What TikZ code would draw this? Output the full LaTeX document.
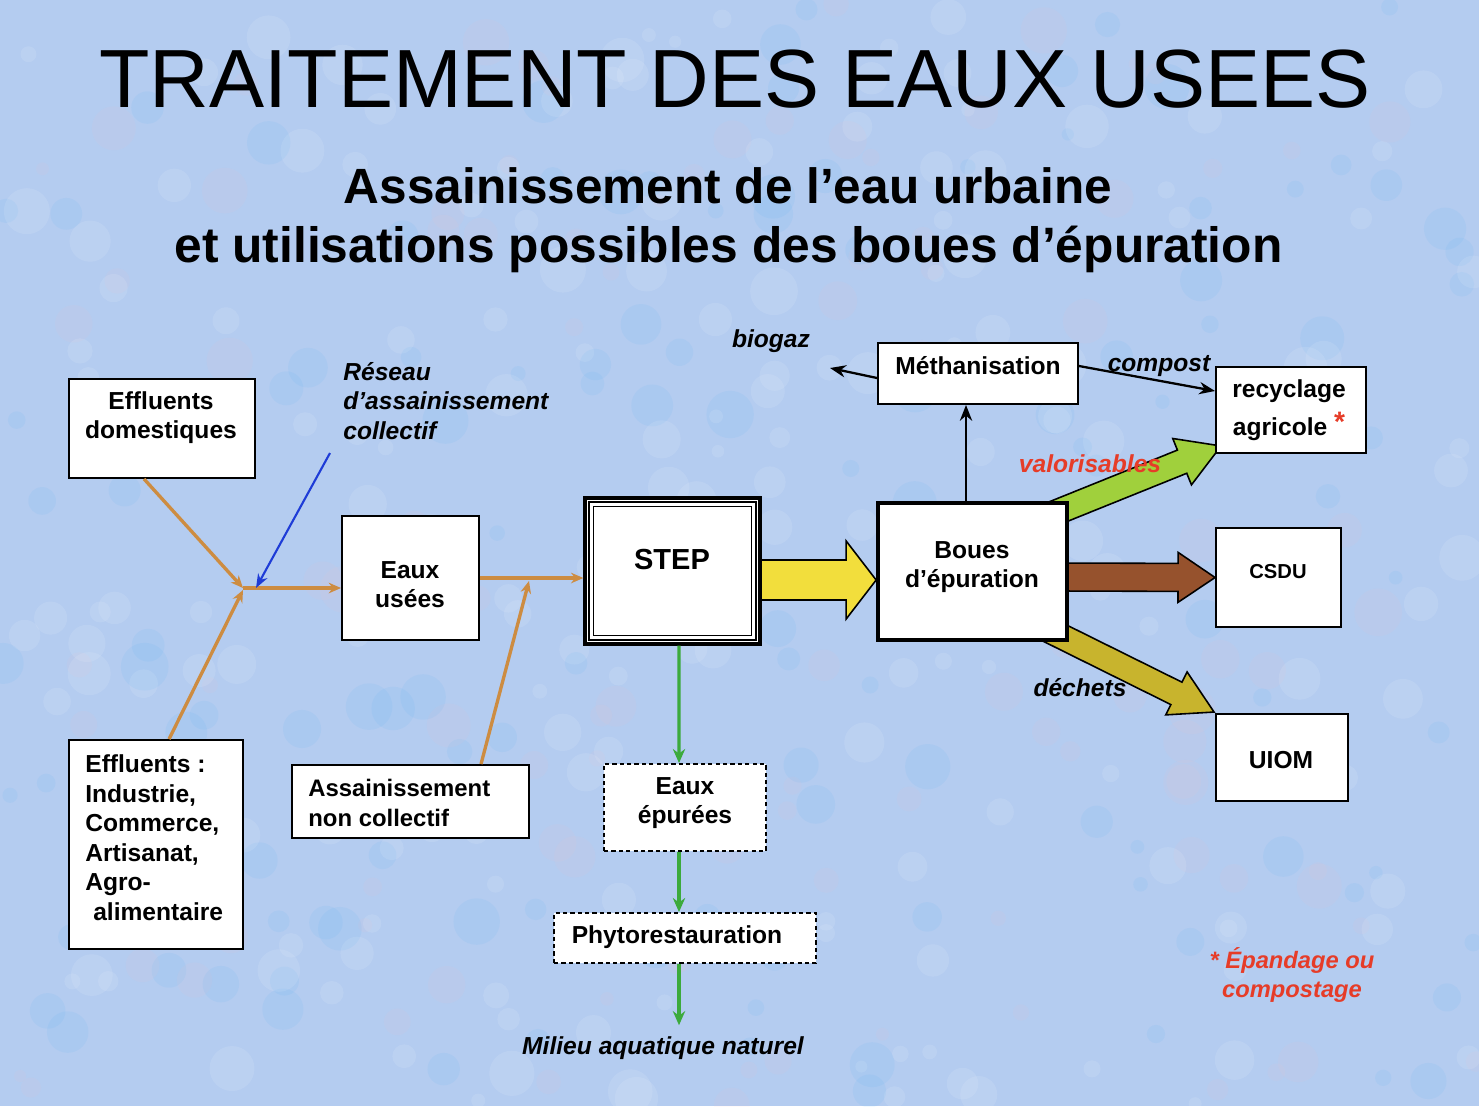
\documentclass[tikz,border=0pt]{standalone}
\usepackage{fontspec}
\setmainfont{Liberation Sans}
\usetikzlibrary{calc,arrows.meta}
\pgfdeclarelayer{paper}\pgfdeclarelayer{under}\pgfsetlayers{paper,under,main}
\definecolor{paperblue}{RGB}{180,204,240}
\definecolor{pipe}{RGB}{205,140,65}
\definecolor{eaugreen}{RGB}{60,170,60}
\definecolor{netblue}{RGB}{30,60,215}
\definecolor{labred}{RGB}{230,60,40}
\definecolor{fyellow}{RGB}{242,222,60}
\definecolor{fbrown}{RGB}{150,82,45}
\definecolor{fgreen}{RGB}{160,208,60}
\definecolor{folive}{RGB}{200,180,45}
\tikzset{
  box/.style 2 args={draw=black, fill=white, line width=1.1pt, inner sep=0pt,
    minimum width=#1*0.02cm, minimum height=#2*0.02cm},
  dbox/.style 2 args={box={#1}{#2}, dash pattern=on 2.4pt off 1.8pt},
  txt/.style={font=\bfseries\fontsize{14}{16.8}\selectfont, align=center, inner sep=0pt},
  lab/.style={font=\bfseries\itshape\fontsize{14}{17}\selectfont, inner sep=0pt},
  pipeline/.style={draw=pipe, line width=1.9pt, -{Stealth[length=7pt,width=6pt]}},
  water/.style={draw=eaugreen, line width=1.8pt, -{Stealth[length=8pt,width=7pt]}},
  netline/.style={draw=netblue, line width=1.2pt, -{Stealth[length=8pt,width=6pt]}},
  blk/.style={draw=black, line width=1.3pt, -{Stealth[length=9pt,width=7pt]}},
}
\newcommand\fatarrow[6]{% start, end, colour, half shaft, half head, head length
  \coordinate (fb) at ($(#2)!#6!(#1)$);
  \filldraw[fill=#3, draw=black, line width=0.9pt, line join=miter]
    ($(#1)!#4!90:(#2)$) -- ($(fb)!#4!90:(#2)$) -- ($(fb)!#5!90:(#2)$) -- (#2)
    -- ($(fb)!#5!-90:(#2)$) -- ($(fb)!#4!-90:(#2)$) -- ($(#1)!#4!-90:(#2)$) -- cycle;}
\begin{document}
\begin{tikzpicture}[x=0.02cm, y=-0.02cm]
\useasboundingbox (0,0) rectangle (1479,1106);
\begin{pgfonlayer}{paper}
  \fill[paperblue] (0,0) rectangle (1479,1106);
  \pgfmathsetseed{7}
  \foreach \i in {1,...,420}{
    \pgfmathsetmacro\px{rnd*1479}\pgfmathsetmacro\py{rnd*1106}
    \pgfmathsetmacro\pr{6+rnd*18}\pgfmathsetmacro\pk{rnd}
    \ifdim\pk pt<0.45pt
      \fill[white, opacity=0.10] (\px,\py) circle[radius=\pr*0.02cm];
    \else\ifdim\pk pt<0.7pt
      \fill[pink, opacity=0.08] (\px,\py) circle[radius=\pr*0.02cm];
    \else
      \fill[blue!40!cyan, opacity=0.05] (\px,\py) circle[radius=\pr*0.02cm];
    \fi\fi
  }
\end{pgfonlayer}

% titles
\node[font=\fontsize{47}{50}\selectfont, anchor=base, inner sep=0pt] (title) at (735,107) {TRAITEMENT DES EAUX USEES};
\node[font=\bfseries\fontsize{28.2}{33}\selectfont, anchor=base, inner sep=0pt] (sub1) at (728,203) {Assainissement de l’eau urbaine};
\node[font=\bfseries\fontsize{28.3}{33}\selectfont, anchor=base, inner sep=0pt] (sub2) at (728.5,262) {et utilisations possibles des boues d’épuration};

% boxes
\node[box={186}{99}] (ed) at (162,428.5) {};
\node[txt] (edt) at (161,417.5) {Effluents\\domestiques};
\node[box={137}{124}] (eu) at (410.5,578) {};
\node[txt] (eut) at (410,584.5) {Eaux\\usées};
\node[box={175}{146}, line width=1.9pt] (step) at (672.5,571) {};
\draw[line width=1.1pt] ($(step.north west)+(5.5,5.5)$) rectangle ($(step.south east)+(-5.5,-5.5)$);
\draw[line width=0.6pt] ($(step.north west)+(10,10)$) rectangle ($(step.south east)+(-10,-10)$);
\node[txt, font=\bfseries\fontsize{16.5}{19}\selectfont] (stept) at (672,560) {STEP};
\node[box={189}{137}, line width=2.1pt] (boues) at (972.5,571.5) {};
\node[txt] (bouest) at (972,567) {Boues\\d’épuration};
\node[box={200}{61}] (meth) at (978,373.5) {};
\node[txt] (metht) at (978,366) {Méthanisation};
\node[box={150}{86}] (recyc) at (1291,410) {};
\node[txt] (recyct) at (1289,410) {recyclage\\[4.5pt]agricole {\color{labred}\fontsize{16}{16}\selectfont\raisebox{2pt}{*}}};
\node[box={125}{99}] (csdu) at (1278.5,577.5) {};
\node[txt, font=\bfseries\fontsize{11.5}{14}\selectfont] (csdut) at (1278,572) {CSDU};
\node[box={132}{87}] (uiom) at (1282,757.5) {};
\node[txt] (uiomt) at (1281,760) {UIOM};
\node[box={174}{209}] (ei) at (156,844.5) {};
\node[txt, align=left, anchor=west] (eit) at (85,837.5) {Effluents :\\Industrie,\\Commerce,\\Artisanat,\\Agro-\\\hspace*{4.5pt}alimentaire};
\node[box={237}{73}] (anc) at (410.5,801.5) {};
\node[txt, align=left, anchor=west, font=\bfseries\fontsize{13.6}{17}\selectfont] (anct) at (308,803) {Assainissement\\non collectif};
\node[dbox={162}{87}] (ee) at (685,807.5) {};
\node[txt] (eet) at (685,803) {Eaux\\épurées};
\node[dbox={262}{50}] (phyto) at (685,938) {};
\node[txt] (phytot) at (677,937) {Phytorestauration};
\node[lab] (mil) at (663,1048) {Milieu aquatique naturel};

% fat arrows (under boxes)
\coordinate (ya) at ($(step.east)+(-8,9)$);
\coordinate (yb) at ($(boues.west)+(0,8.5)$);
\coordinate (ba) at ($(boues.east)+(-8,5.5)$);
\coordinate (bb) at (csdu.west);
\coordinate (ga) at ($(boues.north east)+(-69,34)$);
\coordinate (gb) at ($(recyc.south west)+(6,-8)$);
\coordinate (oa) at ($(boues.south east)+(-77,-40)$);
\coordinate (ob) at ($(uiom.north west)+(-1,-1)$);
\begin{pgfonlayer}{under}
  \fatarrow{ya}{yb}{fyellow}{0.4cm}{0.78cm}{0.6cm}
  \fatarrow{ba}{bb}{fbrown}{0.28cm}{0.5cm}{0.74cm}
  \fatarrow{ga}{gb}{fgreen}{0.25cm}{0.5cm}{0.84cm}
  \fatarrow{oa}{ob}{folive}{0.25cm}{0.48cm}{0.84cm}
\end{pgfonlayer}

% thin connectors
\coordinate (J) at (243,588);
\draw[pipeline] ($(ed.south west)+(76,0)$) -- (J);
\draw[pipeline] ($(ei.north west)+(101,0)$) -- ($(J)+(0,2)$);
\draw[pipeline] (J) -- (J -| eu.west);
\coordinate (bl) at (330,453);
\draw[netline] (bl) -- ($(J)+(13,0)$);
\draw[pipeline] (eu.east) -- (eu.east -| step.west);
\draw[pipeline] ($(anc.north west)+(190,0)$) -- ($(eu.east)+(49,3)$);
\draw[water] ($(step.south)+(6.5,0)$) -- ($(ee.north)+(-6,0)$);
\draw[water] ($(ee.south)+(-6,0)$) -- ($(phyto.north)+(-6,0)$);
\draw[water] ($(phyto.south)+(-6,0)$) -- ($(mil.north)+(16,-11)$);
\draw[blk] ($(boues.north)+(-6.5,0)$) -- ($(meth.south)+(-12,0)$);
\coordinate (bg) at (830,368);
\draw[blk] ($(meth.west)+(0,4.5)$) -- (bg);
\draw[blk] ($(meth.east)+(0,-7.5)$) -- ($(recyc.west)+(0,-19)$);

% labels
\node[lab] (biogaz) at (771,341) {biogaz};
\node[lab] (compost) at (1159,366) {compost};
\node[lab, text=labred] (valo) at (1090,464) {valorisables};
\node[lab] (dechets) at (1080,688) {déchets};
\node[lab, align=left, anchor=west] (reseau) at (343,401) {Réseau\\d’assainissement\\collectif};
\node[lab, text=labred, align=center, font=\bfseries\itshape\fontsize{13.5}{17}\selectfont] (note) at (1292,975) {* Épandage ou\\compostage};
\end{tikzpicture}
\end{document}
